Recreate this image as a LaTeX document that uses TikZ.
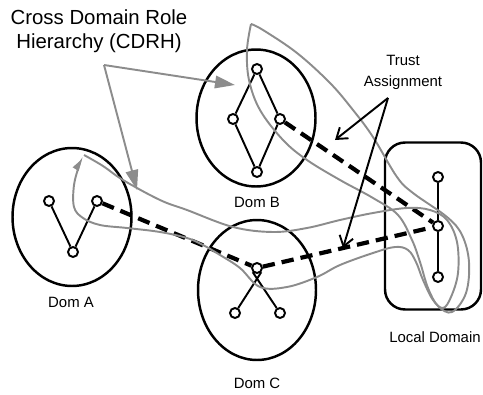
\documentclass[tikz,border=0pt]{standalone}
\usepackage{fontspec}
\setmainfont{Liberation Sans}
\usetikzlibrary{shapes.geometric,arrows.meta}

\begin{document}
\begin{tikzpicture}[x=0.02cm, y=-0.02cm,
  dom/.style = {ellipse, draw, line width=1.4pt},
  role/.style = {circle, draw, line width=1.1pt, fill=white,
    inner sep=0pt, minimum size=0.2cm},
  link/.style = {line width=1.1pt},
  trust/.style = {line width=2.4pt, dash pattern=on 7pt off 4pt},
  hier/.style = {draw=black!45, line width=1.1pt},
  lbl/.style = {font=\fontsize{8.5}{11.9}\selectfont, align=center}]
  \useasboundingbox (0,0) rectangle (483,395);

  % the four domains
  \node[dom, minimum width=2.38cm, minimum height=2.76cm] (domA) at (72,217) {};
  \node[dom, minimum width=2.38cm, minimum height=2.74cm] (domB) at (256,118) {};
  \node[dom, minimum width=2.36cm, minimum height=2.80cm] (domC) at (257,290) {};
  \node[draw, line width=1.4pt, rounded corners=0.4cm,
    minimum width=1.92cm, minimum height=3.34cm] (local) at (433,226) {};

  \node[lbl] (labA) at (71,302) {Dom A};
  \node[lbl] (labB) at (257,202) {Dom B};
  \node[lbl] (labC) at (257,383) {Dom C};
  \node[lbl] (labL) at (435,337) {Local Domain};

  % roles
  \node[role] (aL) at (49,201) {};
  \node[role] (aR) at (97,201) {};
  \node[role] (aB) at (73,252) {};
  \node[role] (bT) at (257,69) {};
  \node[role] (bL) at (233,119) {};
  \node[role] (bR) at (280,119) {};
  \node[role] (bB) at (257,172) {};
  \node[role] (cT) at (257,268) {};
  \node[role] (cL) at (235,313) {};
  \node[role] (cR) at (280,313) {};
  \node[role] (lT) at (438,177) {};
  \node[role] (lM) at (438,226) {};
  \node[role] (lB) at (438,277) {};

  % role hierarchies
  \draw[link] (aB) -- (aL) (aB) -- (aR);
  \draw[link] (bT) -- (bL) -- (bB) -- (bR) -- (bT);
  \draw[link] (cT.south east) -- (cL) (cT.south west) -- (cR);
  \draw[link] (lT) -- (lM) -- (lB);

  % trust assignments
  \draw[trust] (aR) -- (cT) -- (lM);
  \draw[trust] (bR) -- (lM);

  % CDRH outlines
  \draw[hier] plot[smooth, tension=0.6] coordinates {(251,24) (263,30)
    (297,53) (330,83) (353,110) (373,137) (397,177) (413,193) (447,217)
    (462,235) (469,262) (466,293) (452,312) (438,306) (428,288) (420,262)
    (412,240) (398,215) (373,198) (340,180) (307,160) (283,140) (260,110)
    (249,80) (247,50) (251,24)};
  \draw[hier, -{Triangle[length=0.24cm, width=0.13cm]}]
    plot[smooth, tension=0.6] coordinates {(84,155) (103,166) (123,180)
    (160,200) (187,210) (233,227) (273,232) (307,228) (340,220) (373,213)
    (407,208) (430,210) (447,220) (457,242) (458,273) (451,297) (443,308)
    (433,300) (423,280) (416,262) (408,250) (395,247) (373,253) (340,265)
    (317,277) (287,287) (260,287) (240,268) (220,255) (203,245) (187,238)
    (160,232) (127,228) (100,225) (83,218) (74,207) (74,185) (79,166)
    (82,159)};

  % callouts
  \node[font=\fontsize{11.6}{13.6}\selectfont, align=center] (cdrh)
    at (99,31) {Cross Domain Role\\Hierarchy (CDRH)};
  \coordinate (cdrhfork) at (104,65);
  \coordinate (cdrhB) at (235,85);
  \coordinate (cdrhA) at (137,190);
  \draw[hier, -{Triangle[length=0.4cm, width=0.25cm]}] (cdrhfork) -- (cdrhB);
  \draw[hier, -{Triangle[length=0.4cm, width=0.25cm]}] (cdrhfork) -- (cdrhA);

  \node[lbl] (ta) at (403,72) {Trust\\Assignment};
  \coordinate (tafork) at (388,98);
  \coordinate (taB) at (335,140);
  \coordinate (taC) at (343,248);
  \draw[link, -{Straight Barb[length=0.2cm, width=0.28cm]}] (tafork) -- (taB);
  \draw[link, -{Straight Barb[length=0.2cm, width=0.28cm]}] (tafork) -- (taC);
\end{tikzpicture}
\end{document}
